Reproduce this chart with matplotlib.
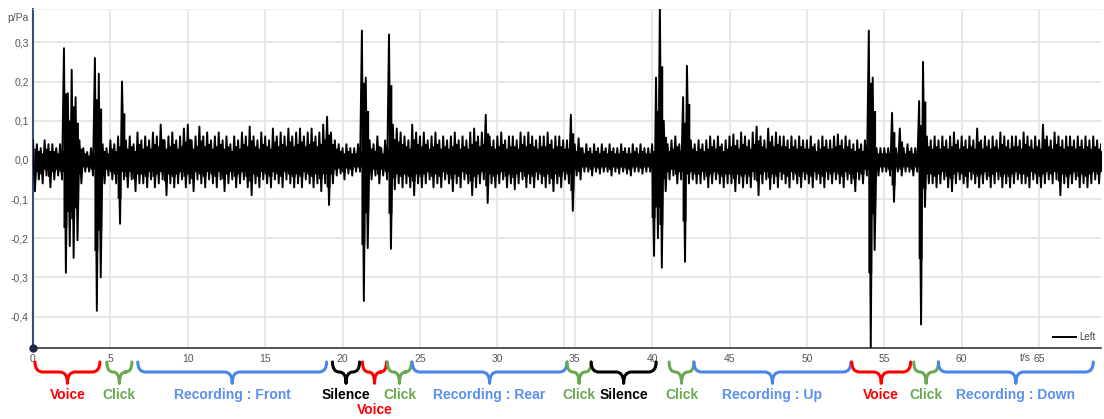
import numpy as np
import matplotlib
matplotlib.use('Agg')
import matplotlib.pyplot as plt
from matplotlib.path import Path
from matplotlib.patches import PathPatch
from matplotlib import transforms

plt.rcParams['font.family'] = ['Liberation Sans', 'DejaVu Sans']

# waveform envelope, one value every 0.25 s (unit: 0.01 Pa)
# upper peaks
peaks_hi = [
    5, 4, 3, 5,   4, 4, 3, 4,   28.5, 17, 23, 16,   5, 3, 2, 3,   26, 22, 4, 3,
    5, 4, 6, 20,   5, 6, 4, 7,   5, 6, 5, 7,   6, 9, 5, 6,   7, 5, 6, 8,
    9, 5, 6, 8.5,   6, 7, 5, 6,   7, 5, 6, 4,   6, 5, 7, 6,   8.5, 6, 5, 7,
    6, 5, 8, 6,   7, 6, 8, 6,   7, 8, 6, 7,   8, 6, 7, 9,   11, 7, 5, 4,
    3, 4, 3, 3,   4, 33, 21, 5,   4, 6, 3, 5,   32, 9, 8, 7,   6, 5, 9, 7,
    6, 7, 5, 6,   7, 5, 6, 5,   6, 7, 5, 6,   5, 7, 8, 6,   7, 11.5, 6, 5,
    6, 7, 5, 6,   6, 5, 7, 6,   7, 6, 5, 6,   6, 7, 5, 6,   6, 5, 5, 11.5,
    4, 5.5, 3, 4,   3, 4, 3, 4,   3, 4, 3, 3,   4, 3, 3, 4,   3, 4, 3, 3,
    4, 21, 40, 10,   4, 5, 6, 4,   16, 24, 5, 4,   5, 4, 5, 6,   5, 6, 4, 5,
    6, 6.5, 5, 7,   6, 5, 7, 8.5,   6, 5, 8, 6,   7, 6, 6, 5,   6, 5, 6, 5,
    5, 6, 4, 5,   6, 5, 5, 6,   6.5, 5, 6, 5,   4, 5, 4, 5,   33, 21, 3, 3,
    3, 3, 12, 3,   8, 3, 4, 3,   3, 15, 25, 6,   5, 6, 5, 6,   5, 6, 7, 5,
    6, 5, 6, 5,   8, 5, 6, 5,   6, 5, 7, 6,   5, 6, 6, 5,   7, 6, 5, 6,
    5, 9, 6, 5,   7, 6, 5, 6,   6, 5, 6, 5,   6, 5, 6, 5,   4,
]
# lower peaks (half a step later)
peaks_lo = [
    -8, -5, -6, -4,   -7, -5, -4, -5,   -28.8, -22, -25, -20.5,   -6, -3, -3, -4,   -38.5, -30, -6, -4,
    -5, -6, -16.3, -5,   -7, -5, -8, -6,   -6, -7, -5, -7,   -6, -5, -9, -6,   -7, -6, -5, -7,
    -6, -8, -5, -6,   -7, -5, -6, -7,   -5, -8, -6, -5,   -7, -6, -5, -7,   -9, -6, -7, -5,
    -6, -7, -5, -6,   -7, -5, -6, -7,   -6, -7, -5, -6,   -7, -6, -8, -6,   -11.5, -6, -4, -3.5,
    -5, -3.5, -4, -3,   -3, -36, -22.5, -5,   -4, -6, -4, -5,   -22.7, -7.5, -6, -7,   -6, -7, -9, -6,
    -7, -6, -5, -7,   -6, -7, -5, -6,   -8, -6, -7, -5,   -6, -9, -7, -6,   -5, -11, -6, -7,
    -6, -5, -7, -6,   -7.5, -6, -5, -7,   -6, -7, -5, -6,   -7, -6, -8, -6,   -7, -5, -6, -13,
    -4, -5, -3, -3,   -4, -3, -3.5, -3,   -3, -4, -3, -3.5,   -3, -3.5, -4, -3,   -3, -3.5, -3, -3,
    -24.5, -20, -27.5, -8,   -5, -4, -6, -5,   -26, -6, -5, -6,   -6, -5, -7, -6,   -5, -6, -7, -6,
    -6, -8, -6, -7,   -6, -7, -5, -9,   -6, -5, -7.5, -6,   -7, -5, -6, -7,   -5, -6, -7, -5,
    -6, -7, -5, -6,   -7, -5, -6, -5,   -6, -7, -5, -6,   -8, -5, -6, -4,   -48, -23, -4, -3,
    -3, -4, -10.7, -3,   -4, -3, -3, -4,   -3, -42, -12, -6,   -6, -7, -6, -5,   -7, -8, -6, -5,
    -6, -7, -5, -6,   -7, -6, -5, -7,   -6, -5, -7, -6,   -7, -6, -5, -6,   -6, -7, -5, -6,
    -7, -6, -5, -6,   -5, -9, -6, -7,   -6, -5, -7, -6,   -7, -6, -5, -6,   -5,
]

x_ticks = [0, 5, 10, 15, 20, 25, 30, 35, 40, 45, 50, 55, 60, 65]
y_ticks = [-0.4, -0.3, -0.2, -0.1, 0.0, 0.1, 0.2, 0.3]

seg_labels = ['Voice', 'Click', 'Recording : Front', 'Silence', 'Voice', 'Click',
              'Recording : Rear', 'Click', 'Silence', 'Click', 'Recording : Up',
              'Voice', 'Click', 'Recording : Down']
seg_start = [0.13, 4.77, 6.77, 19.35, 21.29, 22.9, 24.5, 34.5, 36.06, 41.1, 42.7, 52.9, 56.9, 58.5]
seg_end = [4.32, 6.39, 18.97, 21.1, 22.84, 24.45, 34.5, 36.06, 40.26, 42.7, 52.84, 56.7, 58.5, 68.5]
seg_row = [0, 0, 0, 0, 1, 0, 0, 0, 0, 0, 0, 0, 0, 0]

kind_col = {'Voice': ('#ff0000', '#ff0000'), 'Click': ('#6aa84f', '#6aa84f'),
            'Silence': ('#000000', '#000000')}
rec_col = ('#4a86e8', '#5b8ff0')

W, H = 1104, 419
fig = plt.figure(figsize=(W / 100, H / 100), dpi=100)
ax = fig.add_axes([33 / W, 1 - 348 / H, (1101 - 33) / W, (348 - 9) / H])

hi = np.array(peaks_hi) * 0.01
lo = np.array(peaks_lo) * 0.01
t = np.arange(len(hi)) * 0.25
tt = np.empty(2 * len(t))
yy = np.empty(2 * len(t))
tt[0::2] = t
tt[1::2] = t + 0.125
yy[0::2] = hi
yy[1::2] = lo
# dense core of the signal, then the zig-zag peaks on top
ax.fill_between(t + 0.06, lo * 0.6, hi * 0.6, step='mid', color='black', lw=0, zorder=3)
ax.plot(tt, yy, color='black', lw=1.4, label='Left', zorder=3)

ax.set_xlim(0, 69)
ax.set_ylim(-0.48, 0.385)
ax.set_xticks(x_ticks)
ax.set_xticklabels([str(v) for v in x_ticks])
ax.set_yticks(y_ticks)
ax.set_yticklabels([f'{v:.1f}'.replace('.', ',') for v in y_ticks])
ax.axvline(34.3, color='#e3e3e3', lw=1.2, zorder=0)
ax.grid(color='#e3e3e3', lw=1.2)
ax.set_axisbelow(True)
ax.tick_params(length=0, labelsize=7.5, colors='#555555')
ax.tick_params(axis='y', pad=3)
ax.tick_params(axis='x', pad=4)
ax.spines['right'].set_visible(False)
ax.spines['top'].set_color('#f0f0f0')
ax.spines['left'].set_color('#3a4d78')
ax.spines['left'].set_linewidth(1.5)
ax.spines['bottom'].set_color('#333333')
ax.spines['bottom'].set_linewidth(1.2)
ax.plot(0, -0.48, 'o', color='#1c2a44', ms=5, clip_on=False, zorder=6)

fig.text(29 / W, 1 - 18 / H, 'p/Pa', ha='right', va='center', fontsize=7.5, color='#555555')
fig.text(1031 / W, 1 - 358 / H, 't/s', ha='right', va='center', fontsize=7.5, color='#555555')

leg = ax.legend(loc='lower right', frameon=False, fontsize=7, handlelength=2.4,
                handletextpad=0.3, borderaxespad=0.2)
for txt in leg.get_texts():
    txt.set_color('#444444')

# braces under the axis
trans = transforms.blended_transform_factory(ax.transData, fig.transFigure)
y_top, y_bar, y_tip = 1 - 362 / H, 1 - 372 / H, 1 - 383 / H
y_lab = [1 - 395 / H, 1 - 410 / H]
for lab, x0, x1, row in zip(seg_labels, seg_start, seg_end, seg_row):
    bc, tc = kind_col.get(lab, rec_col)
    xm = (x0 + x1) / 2
    r = min(0.5, (x1 - x0) / 4)
    verts = [(x0, y_top), (x0, y_bar), (x0 + r, y_bar), (xm - r, y_bar),
             (xm, y_bar), (xm, y_tip),
             (xm, y_tip), (xm, y_bar), (xm + r, y_bar), (x1 - r, y_bar),
             (x1, y_bar), (x1, y_top)]
    codes = [Path.MOVETO, Path.CURVE3, Path.CURVE3, Path.LINETO,
             Path.CURVE3, Path.CURVE3,
             Path.MOVETO, Path.CURVE3, Path.CURVE3, Path.LINETO,
             Path.CURVE3, Path.CURVE3]
    patch = PathPatch(Path(verts, codes), transform=trans, fill=False, ec=bc,
                      lw=2.2, capstyle='round', joinstyle='round', clip_on=False)
    fig.add_artist(patch)
    fig.text(xm, y_lab[row], lab, transform=trans, ha='center', va='center',
             fontsize=10, fontweight='bold', color=tc)

fig.savefig('out.png', dpi=100)
